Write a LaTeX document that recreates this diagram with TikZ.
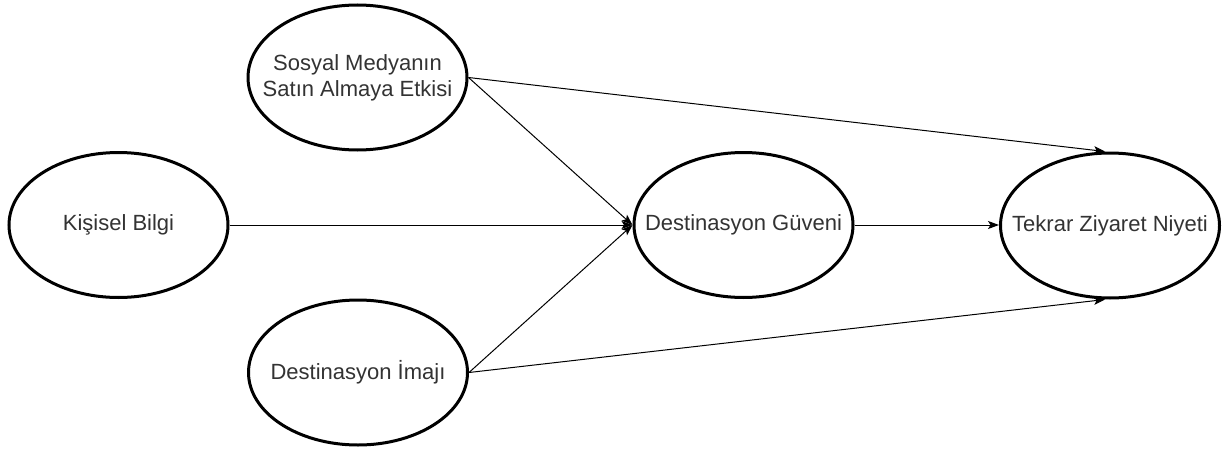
\documentclass[tikz,border=0pt]{standalone}
\usepackage{fontspec}
\setmainfont{Liberation Sans}
\usetikzlibrary{shapes.geometric,arrows.meta}
\definecolor{txt}{HTML}{333333}
\tikzset{
  construct/.style={ellipse, draw=black, line width=3pt, fill=white,
    minimum width=219pt, minimum height=145pt, inner sep=0pt},
  caption/.style={align=center, text=txt, font=\fontsize{22}{26}\selectfont, inner sep=0pt},
  link/.style={line width=1pt, -{Stealth[length=11pt,width=8pt,inset=2.5pt]}}
}
\begin{document}
\begin{tikzpicture}[x=1pt,y=-1pt]
\useasboundingbox (0,0) rectangle (1229,455);
\node[construct] (K) at (118.5,225) {};
\node[construct] (S) at (357.5,77.5) {};
\node[construct] (I) at (358,372.5) {};
\node[construct] (G) at (743.5,225) {};
\node[construct] (T) at (1110,225.5) {};
\node[caption] (Kt) at (K.center) {Kişisel Bilgi};
\node[caption] (St) at (S.center) {Sosyal Medyanın\\Satın Almaya Etkisi};
\node[caption] (It) at (I.center) {Destinasyon İmajı};
\node[caption] (Gt) at (G.center) {Destinasyon Güveni};
\node[caption] (Tt) at (T.center) {Tekrar Ziyaret Niyeti};
\coordinate (Ttop) at ([xshift=-5pt]T.north);
\coordinate (Tbot) at ([xshift=-5pt]T.south);
\draw[link] (S.east) -- (Ttop);
\draw[link] (S.east) -- (G.west);
\draw[link] (K.east) -- (G.west);
\draw[link] (I.east) -- (G.west);
\draw[link] (I.east) -- (Tbot);
\draw[link] (G.east) -- (G.east -| T.west);
\end{tikzpicture}
\end{document}
